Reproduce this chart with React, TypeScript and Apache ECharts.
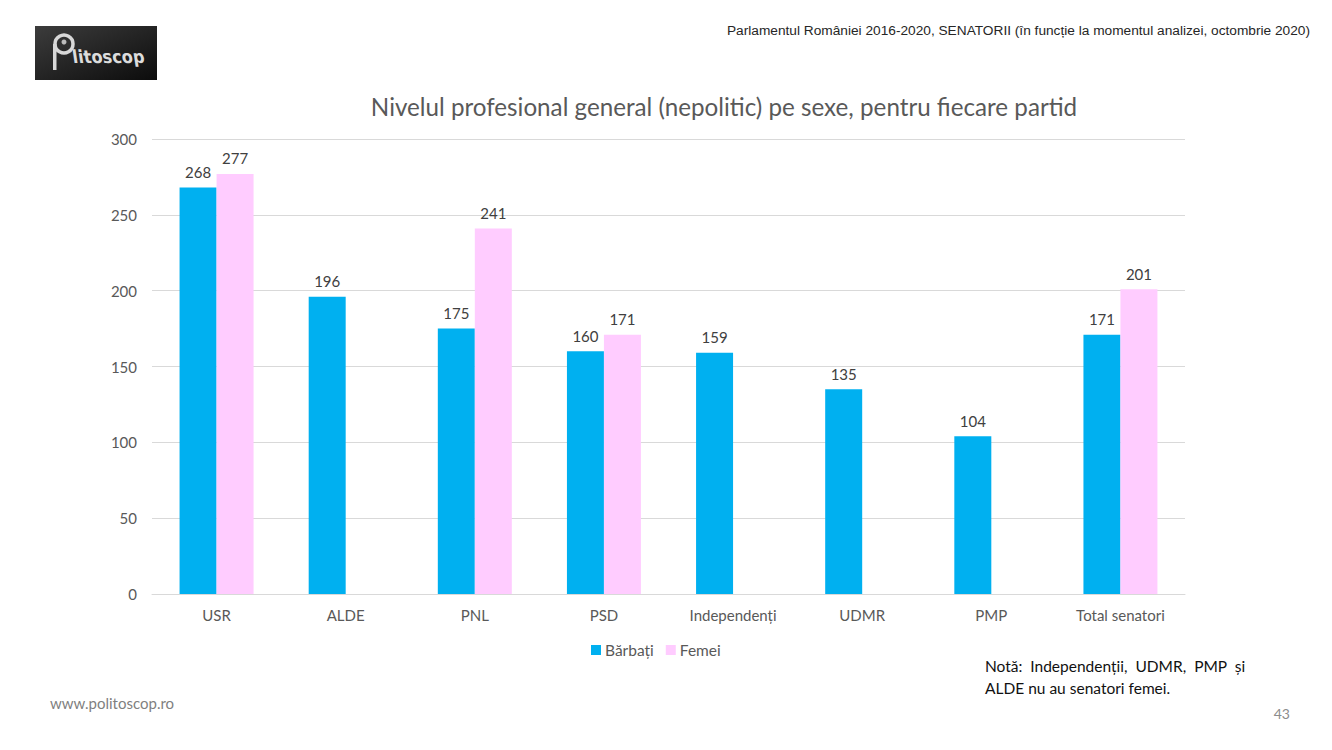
import React, { useEffect, useRef } from "react";
import * as echarts from "echarts";

const categories = ["USR", "ALDE", "PNL", "PSD", "Independenți", "UDMR", "PMP", "Total senatori"];
const barbati = [268, 196, 175, 160, 159, 135, 104, 171];
const femei: (number | null)[] = [277, null, 241, 171, null, null, null, 201];
const yTicks = { min: 0, max: 300, interval: 50 };

const FONT = "Lato, 'Open Sans', sans-serif";

export default function App() {
  const ref = useRef<HTMLDivElement>(null);
  useEffect(() => {
    if (!ref.current) return;
    const chart = echarts.init(ref.current, null, { renderer: "svg" });
    chart.setOption({
      animation: false,
      backgroundColor: "#ffffff",
      textStyle: { fontFamily: FONT },
      title: {
        text: "Nivelul profesional general (nepolitic) pe sexe, pentru fiecare partid",
        left: 719,
        top: 89,
        textAlign: "center",
        textStyle: { fontFamily: FONT, fontSize: 24.2, fontWeight: "normal", color: "#595959" },
      },
      grid: { left: 152, right: 147, top: 139, bottom: 156 },
      legend: {
        data: ["Bărbați", "Femei"],
        left: 586,
        top: 637,
        itemWidth: 10,
        itemHeight: 10,
        itemGap: 12,
        icon: "rect",
        textStyle: { fontFamily: FONT, fontSize: 15.5, color: "#595959", padding: [0, 0, 0, -1] },
      },
      xAxis: {
        type: "category",
        data: categories,
        axisLine: { lineStyle: { color: "#d9d9d9", width: 1 } },
        axisTick: { show: false },
        axisLabel: { fontFamily: FONT, fontSize: 15, color: "#595959", margin: 13 },
      },
      yAxis: {
        type: "value",
        min: yTicks.min,
        max: yTicks.max,
        interval: yTicks.interval,
        axisLine: { show: false },
        axisTick: { show: false },
        splitLine: { lineStyle: { color: "#d9d9d9", width: 1 } },
        axisLabel: { fontFamily: FONT, fontSize: 15, color: "#595959", margin: 15 },
      },
      series: [
        {
          name: "Bărbați",
          type: "bar",
          data: barbati,
          barWidth: 37,
          barGap: "0%",
          itemStyle: { color: "#00b0f0" },
          label: { show: true, position: "top", distance: 8, fontFamily: FONT, fontSize: 15, color: "#404040" },
        },
        {
          name: "Femei",
          type: "bar",
          data: femei.map((v) => (v === null ? "-" : v)),
          barWidth: 37,
          barGap: "0%",
          itemStyle: { color: "#ffccff" },
          label: { show: true, position: "top", distance: 8, fontFamily: FONT, fontSize: 15, color: "#404040" },
        },
      ],
      graphic: [
        {
          type: "rect",
          shape: { x: 35, y: 26, width: 122, height: 54 },
          style: {
            fill: new echarts.graphic.LinearGradient(0, 0, 1, 1, [
              { offset: 0, color: "#3c3c3c" },
              { offset: 1, color: "#0c0c0c" },
            ]),
          },
        },
        {
          type: "circle",
          shape: { cx: 64, cy: 44, r: 9 },
          style: { fill: "none", stroke: "#d8d8d8", lineWidth: 3.5 },
        },
        {
          type: "rect",
          shape: { x: 53, y: 44, width: 3.5, height: 26 },
          style: { fill: "#d8d8d8" },
        },
        {
          type: "circle",
          shape: { cx: 64, cy: 42, r: 2.5 },
          style: { fill: "#bbbbbb" },
        },
        {
          type: "text",
          x: 71,
          y: 48,
          skewX: 0.15,
          style: {
            text: "litoscop",
            fontFamily: "'DejaVu Sans Condensed', 'Liberation Sans Narrow', sans-serif",
            fontSize: 18,
            fontWeight: "bold",
            fill: "#dcdcdc",
          },
        },
        {
          type: "text",
          x: 1310,
          y: 23,
          style: {
            text: "Parlamentul României 2016-2020, SENATORII (în funcție la momentul analizei, octombrie 2020)",
            fontFamily: "'Liberation Sans', Arial, sans-serif",
            fontSize: 13.7,
            fill: "#262626",
            align: "right",
          },
        },
        {
          type: "text",
          x: 985,
          y: 655,
          style: {
            text: "Notă:  Independenții,  UDMR,  PMP  și\nALDE nu au senatori femei.",
            fontFamily: FONT,
            fontSize: 15.5,
            lineHeight: 22,
            fill: "#111111",
          },
        },
        {
          type: "text",
          x: 50,
          y: 695,
          style: { text: "www.politoscop.ro", fontFamily: FONT, fontSize: 15, fill: "#7f7f7f" },
        },
        {
          type: "text",
          x: 1290,
          y: 706,
          style: { text: "43", fontFamily: FONT, fontSize: 14, fill: "#8c8c8c", align: "right" },
        },
      ],
    });
    return () => chart.dispose();
  }, []);
  return <div ref={ref} style={{ position: "absolute", left: 0, top: 0, width: 1332, height: 750 }} />;
}
